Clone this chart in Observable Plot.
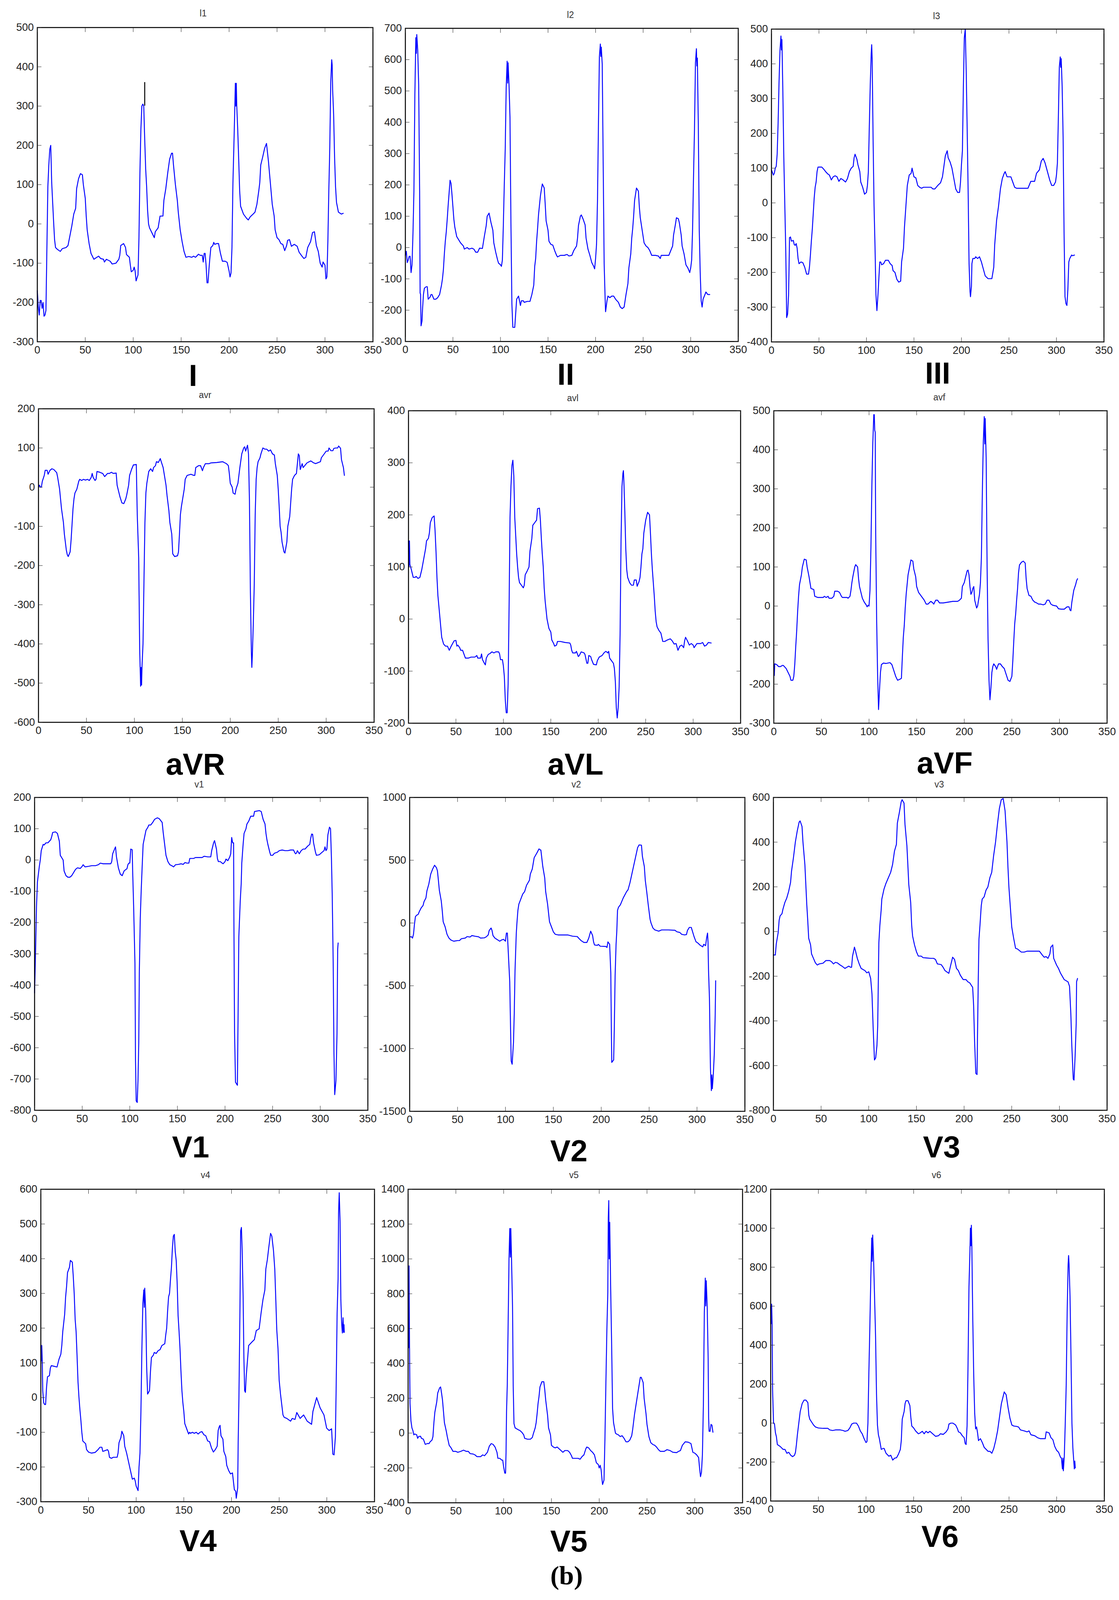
<!DOCTYPE html>
<html>
<head>
<meta charset="utf-8">
<title>12 lead ECG</title>
<script src="https://cdn.jsdelivr.net/npm/d3@7"></script>
<script src="https://cdn.jsdelivr.net/npm/@observablehq/plot@0.6"></script>
<style>
  html, body { margin: 0; background: #fff; }
  #page { position: relative; width: 2864px; overflow: hidden; font-family: "Liberation Sans", sans-serif; }
  #page svg { position: absolute; overflow: visible; }
  .lbl { position: absolute; transform: translateX(-50%); line-height: 1; white-space: nowrap; }
  .small { color: #333; }
  .big { font-weight: bold; color: #000; }
  .cap { font-family: "Liberation Serif", serif; font-weight: bold; color: #000; }
</style>
</head>
<body>
<div id="page"></div>
<script>
// values: [sample, amplitude]
const leadI = [[0,-170],[1,-210],[2,-232],[3,-195],[4,-195],[5,-215],[6,-200],[7,-235],[8,-232],[9,-220],[10,-60],[11,95],[12,150],[13,190],[14,200],[15,105],[16,55],[17,5],[18,-40],[19,-60],[21,-65],[24,-70],[26,-63],[30,-60],[32,-55],[34,-30],[36,-5],[38,25],[40,40],[41,90],[43,115],[45,128],[47,125],[48,100],[50,65],[51,20],[52,-15],[54,-50],[56,-75],[59,-90],[62,-85],[64,-82],[66,-88],[69,-90],[70,-97],[72,-90],[76,-95],[78,-102],[82,-100],[85,-90],[86,-80],[87,-55],[90,-50],[92,-60],[93,-78],[96,-85],[97,-105],[98,-122],[100,-118],[101,-110],[102,-120],[103,-145],[105,-130],[106,-35],[107,130],[108,240],[109,300],[110,305],[111,300],[112,215],[113,140],[114,95],[115,35],[116,0],[117,-10],[120,-25],[122,-35],[123,-20],[126,-10],[128,20],[131,20],[132,60],[134,90],[136,130],[138,165],[140,180],[141,180],[142,150],[144,100],[146,60],[147,30],[149,-15],[151,-45],[153,-70],[155,-85],[158,-83],[161,-85],[163,-82],[165,-85],[167,-80],[168,-77],[170,-80],[172,-80],[173,-97],[174,-75],[175,-75],[176,-105],[177,-150],[178,-150],[179,-115],[180,-85],[181,-60],[183,-55],[184,-47],[185,-52],[187,-50],[189,-50],[191,-75],[193,-95],[196,-95],[198,-98],[200,-120],[201,-135],[202,-125],[203,-60],[204,105],[205,200],[206,300],[206.5,358],[207,300],[207.5,358],[208,300],[209,240],[210,165],[211,85],[212,45],[215,25],[218,15],[220,10],[222,18],[225,25],[227,30],[229,50],[231,85],[232,105],[233,150],[235,170],[237,192],[239,205],[241,160],[243,105],[245,50],[247,20],[248,-15],[250,-35],[252,-40],[254,-50],[256,-52],[258,-68],[260,-55],[261,-42],[263,-40],[265,-57],[268,-52],[271,-57],[273,-72],[276,-82],[278,-88],[280,-85],[282,-60],[285,-45],[287,-22],[289,-20],[291,-55],[293,-70],[295,-100],[297,-110],[298,-97],[300,-105],[301,-140],[302,-135],[303,-45],[304,85],[305,195],[306,360],[307,418],[307.5,405],[308,340],[309,280],[310,170],[311,95],[312,55],[314,30],[317,25],[319,27]];
const leadIStray = [[112,302],[112,360]];
const leadII = [[0,-25],[1,-12],[2,-48],[3,-40],[4,-28],[5,-28],[6,-80],[7,-55],[8,45],[9,180],[10,490],[11,670],[11.5,620],[12,680],[13,630],[14,520],[15,180],[15.5,-145],[16,-150],[16.5,-250],[17.5,-235],[18,-200],[19,-150],[20,-130],[22,-125],[23,-125],[24,-165],[26,-158],[27,-150],[28,-150],[30,-165],[32,-165],[34,-160],[36,-150],[38,-120],[39,-100],[40,-70],[41,-20],[42,20],[43,50],[44,90],[45,135],[46,175],[47,215],[48,205],[49,170],[50,130],[51,90],[52,65],[54,35],[56,25],[58,15],[61,5],[62,-5],[65,0],[67,-5],[70,-2],[72,-5],[74,-15],[76,-15],[78,-2],[81,-3],[83,35],[85,70],[86,100],[88,110],[90,80],[92,55],[93,15],[95,-15],[97,-40],[98,-50],[100,-55],[101,-60],[102,-40],[103,70],[104,200],[105,315],[106,510],[107,595],[107.5,525],[108,590],[109,520],[110,415],[111,78],[112,-180],[113,-255],[115,-255],[116,-210],[117,-165],[119,-155],[120,-170],[121,-185],[122,-170],[124,-170],[125,-175],[128,-172],[131,-172],[133,-150],[135,-120],[136,-60],[137,-35],[138,20],[139,60],[140,105],[141,135],[142,165],[143,185],[144,203],[146,190],[147,140],[148,85],[150,55],[151,20],[153,10],[155,8],[157,-10],[159,-25],[160,-30],[163,-25],[167,-25],[170,-22],[172,-27],[175,-25],[177,-10],[180,5],[181,30],[182,70],[184,100],[185,104],[187,90],[189,72],[190,30],[192,-5],[194,-25],[196,-48],[198,-60],[199,-68],[200,-35],[201,10],[202,150],[203,390],[204,610],[205,650],[205.5,610],[206,640],[207,585],[208,265],[209,-50],[210,-160],[210.5,-205],[212,-170],[213,-155],[215,-160],[217,-155],[219,-155],[221,-165],[224,-175],[226,-190],[228,-195],[230,-190],[232,-150],[234,-115],[235,-65],[237,-20],[238,30],[239,60],[240,100],[241,150],[243,190],[245,180],[246,130],[247,95],[249,55],[251,15],[253,5],[255,0],[257,-10],[259,-25],[261,-25],[263,-25],[266,-27],[268,-35],[269,-25],[272,-25],[277,-25],[279,-10],[281,5],[282,40],[284,75],[285,95],[287,92],[288,80],[290,40],[291,5],[293,-20],[295,-55],[297,-65],[299,-80],[300,-65],[301,-40],[302,60],[303,230],[304,380],[305,590],[306,635],[306.5,580],[307,605],[308,395],[309,55],[310,-80],[311,-170],[312,-190],[313,-165],[315,-150],[316,-142],[318,-150],[320,-150]];
const leadIII = [[0,95],[1,88],[2,80],[3,85],[4,100],[5,105],[6,140],[7,230],[8,350],[9,440],[10,480],[10.5,440],[11,470],[12,320],[13,130],[14,0],[15,-130],[15.5,-220],[16,-330],[17,-320],[18,-265],[18.5,-190],[19,-100],[20,-98],[21,-110],[23,-108],[24,-120],[25,-122],[26,-117],[27,-130],[28,-160],[29,-175],[31,-170],[33,-172],[35,-185],[37,-205],[39,-205],[40,-185],[41,-150],[42,-110],[43,-75],[44,-30],[45,15],[46,45],[47,60],[48,90],[49,103],[51,103],[53,103],[55,97],[57,90],[59,84],[61,80],[63,66],[65,75],[67,78],[69,75],[71,62],[73,70],[75,67],[78,60],[80,70],[82,90],[84,100],[86,105],[87,130],[88,140],[90,125],[91,110],[93,90],[94,60],[96,45],[98,25],[100,30],[101,50],[102,90],[103,220],[104,340],[105,430],[105.5,455],[106,415],[107,180],[108,-10],[109,-125],[110,-265],[111,-310],[112,-270],[113,-220],[114,-170],[115,-170],[116,-178],[118,-175],[120,-165],[123,-165],[125,-175],[127,-180],[128,-195],[130,-200],[132,-220],[134,-228],[136,-225],[137,-170],[139,-130],[140,-70],[142,10],[143,50],[144,65],[145,80],[147,85],[148,100],[150,75],[152,72],[154,50],[156,45],[158,42],[160,45],[165,45],[168,45],[170,40],[172,40],[175,50],[178,58],[180,75],[182,115],[183,135],[185,150],[186,130],[188,118],[190,100],[192,70],[194,40],[196,30],[198,30],[199,60],[200,110],[201,150],[202,330],[203,475],[204,500],[205,380],[206,215],[207,40],[208,-175],[209,-255],[209.5,-270],[210.5,-240],[211,-175],[212,-160],[214,-160],[215,-155],[217,-160],[219,-155],[221,-170],[223,-190],[225,-210],[228,-218],[232,-218],[234,-185],[235,-120],[237,-50],[239,-10],[241,40],[243,70],[245,85],[246,90],[248,75],[252,75],[254,60],[256,45],[258,42],[267,42],[270,42],[273,62],[277,62],[279,85],[282,95],[284,120],[286,128],[288,115],[290,95],[293,65],[295,50],[297,50],[299,60],[300,80],[301,115],[302,245],[303,390],[304,420],[304.5,390],[305,415],[306,335],[307,190],[308,-85],[309,-270],[310,-290],[311,-295],[312,-250],[313,-170],[314,-160],[316,-150],[317,-152],[319,-150]];
const leadAVR = [[0,0],[1,5],[2,0],[3,0],[4,15],[6,30],[7,43],[9,43],[10,33],[12,43],[14,47],[16,45],[19,37],[20,25],[22,-5],[23,-30],[24,-55],[26,-90],[27,-120],[28,-140],[29,-160],[30,-172],[31,-177],[33,-165],[34,-135],[35,-95],[36,-55],[37,-30],[38,-15],[40,-5],[41,5],[42,15],[43,20],[45,17],[47,20],[49,18],[51,20],[53,17],[55,25],[56,35],[57,25],[59,17],[60,20],[61,40],[64,38],[67,35],[69,27],[72,35],[74,35],[76,38],[78,35],[81,36],[82,5],[83,-5],[85,-25],[87,-40],[89,-42],[91,-30],[92,-20],[94,5],[95,30],[97,45],[99,57],[100,57],[102,58],[103,-70],[104.5,-180],[105.5,-410],[106.5,-508],[107,-460],[107.5,-505],[108,-455],[109,-400],[110,-240],[111,-90],[112,-15],[113,10],[115,40],[117,47],[119,40],[120,50],[122,55],[123,65],[125,63],[127,73],[128,65],[130,50],[131,35],[133,5],[134,-20],[136,-60],[137,-90],[139,-120],[140,-170],[142,-177],[145,-175],[146,-165],[147,-120],[148,-70],[149,-50],[151,-20],[152,-5],[153,20],[155,30],[159,33],[162,30],[163,30],[164,50],[167,55],[169,55],[171,42],[172,50],[174,60],[178,60],[180,62],[186,63],[192,65],[196,60],[198,55],[199,35],[200,10],[202,0],[203,-15],[205,-18],[206,-5],[208,10],[209,30],[210,50],[212,85],[214,100],[215,103],[216,92],[218,107],[219,85],[220,-35],[220.5,-150],[221,-270],[222,-420],[222.5,-460],[223,-430],[224,-350],[225,-250],[226,-70],[227,20],[228,50],[229,65],[231,75],[232,85],[234,100],[236,97],[238,97],[240,92],[242,95],[244,85],[246,82],[247,60],[249,30],[250,-5],[251,-50],[252,-100],[253,-115],[254,-140],[256,-165],[257,-168],[259,-140],[260,-100],[262,-75],[263,-40],[264,-5],[265,20],[267,30],[269,35],[271,85],[272,80],[273,45],[275,60],[276,50],[280,62],[284,67],[287,62],[289,60],[292,63],[294,65],[295,75],[298,85],[300,92],[302,92],[303,100],[305,93],[307,93],[308,99],[310,100],[312,100],[313,105],[315,99],[316,70],[318,50],[319,30]];
const leadAVL = [[0,150],[0.5,100],[1,150],[1.5,105],[3,95],[5,80],[7,80],[8,82],[10,78],[12,80],[14,95],[16,115],[18,135],[19,150],[21,155],[22,165],[23,185],[25,195],[27,198],[28,170],[29,130],[30,80],[31,45],[32,25],[34,-15],[35,-35],[37,-48],[39,-52],[41,-52],[43,-60],[45,-52],[48,-42],[50,-41],[51,-52],[52,-50],[54,-55],[55,-60],[57,-60],[59,-70],[60,-75],[63,-75],[66,-73],[70,-73],[72,-70],[73,-75],[76,-75],[77,-67],[78,-78],[80,-85],[81,-88],[82,-75],[84,-68],[86,-66],[88,-63],[90,-65],[92,-63],[95,-63],[96,-67],[97,-78],[99,-78],[100,-90],[101,-110],[102,-155],[103,-180],[104,-180],[105,-125],[106,20],[107,195],[108,255],[109,295],[110,305],[111,275],[112,195],[113,160],[114,125],[115,100],[116,80],[117,70],[119,65],[121,60],[122,65],[123,85],[125,92],[127,100],[128,130],[130,155],[131,180],[133,185],[135,190],[136,212],[138,213],[139,190],[140,155],[141,125],[142,100],[143,60],[144,35],[146,0],[148,-18],[150,-25],[151,-40],[153,-47],[154,-52],[156,-50],[157,-43],[160,-43],[165,-45],[170,-46],[171,-50],[172,-60],[173,-65],[176,-65],[177,-62],[179,-72],[180,-70],[182,-63],[185,-65],[186,-68],[188,-85],[189,-85],[190,-70],[192,-72],[193,-78],[195,-87],[198,-88],[199,-80],[201,-73],[204,-70],[206,-65],[208,-62],[210,-65],[211,-62],[212,-75],[214,-80],[216,-85],[217,-95],[218,-120],[219,-170],[220,-190],[221,-170],[222,-130],[223,-30],[224,150],[225,255],[226,280],[226.5,285],[227,265],[228,205],[229,135],[230,95],[231,80],[233,70],[235,65],[237,65],[238,75],[240,75],[241,63],[243,72],[244,80],[245,100],[246,125],[247,135],[248,165],[250,190],[252,205],[254,200],[255,165],[256,125],[257,95],[258,70],[259,45],[260,15],[261,-5],[262,-15],[264,-22],[266,-27],[268,-43],[270,-43],[273,-40],[276,-38],[278,-42],[280,-48],[282,-47],[284,-60],[286,-52],[288,-50],[290,-55],[291,-42],[292,-35],[294,-42],[296,-50],[298,-47],[300,-50],[301,-55],[304,-47],[308,-47],[310,-45],[312,-52],[314,-50],[316,-45],[319,-46]];
const leadAVF = [[0,-150],[0.5,-178],[1,-148],[3,-150],[5,-155],[7,-155],[9,-152],[10,-152],[13,-160],[15,-170],[17,-180],[18,-190],[20,-190],[21,-180],[22,-150],[23,-105],[24,-65],[25,-15],[26,25],[27,55],[29,80],[30,100],[32,120],[34,118],[35,100],[37,75],[38,60],[39,45],[42,42],[43,25],[46,22],[52,22],[53,25],[55,22],[57,25],[58,20],[61,20],[63,25],[64,38],[67,38],[69,35],[71,25],[72,22],[77,22],[78,20],[80,25],[81,40],[82,60],[83,75],[85,100],[86,106],[88,100],[89,70],[90,50],[92,30],[93,20],[95,10],[97,3],[98,-2],[99,2],[100,0],[101,40],[102,150],[103,310],[104,420],[105,490],[105.5,490],[106,450],[106.5,445],[107,185],[108,-35],[109,-175],[110,-265],[111,-215],[112,-170],[113,-150],[115,-146],[118,-147],[122,-145],[124,-150],[126,-165],[128,-180],[130,-190],[132,-188],[134,-185],[135,-130],[136,-80],[137,-50],[138,-5],[139,30],[140,55],[141,80],[143,105],[144,118],[146,115],[147,95],[149,75],[150,50],[152,35],[155,25],[158,15],[160,5],[162,5],[164,10],[165,12],[167,8],[168,5],[170,15],[172,15],[174,8],[178,8],[183,10],[188,12],[193,12],[195,15],[197,20],[198,50],[200,60],[201,70],[203,90],[204,92],[205,80],[206,50],[207,30],[208,35],[209,45],[210,50],[211,15],[212,5],[213,-5],[214,0],[215,15],[216,30],[217,60],[218,125],[219,290],[220,420],[221,485],[221.5,415],[222,480],[223,380],[224,100],[225,-85],[226,-190],[227,-240],[228,-210],[229,-170],[230,-155],[231,-148],[233,-155],[234,-162],[236,-148],[238,-148],[240,-155],[242,-160],[244,-175],[246,-190],[248,-193],[250,-180],[251,-140],[252,-90],[253,-45],[254,-20],[255,15],[256,45],[257,85],[258,105],[260,112],[262,115],[264,110],[265,70],[266,45],[268,27],[270,25],[272,15],[274,10],[276,8],[278,5],[280,5],[283,3],[285,5],[287,15],[289,15],[291,5],[293,2],[297,0],[299,-7],[302,-8],[305,-8],[308,-2],[310,-2],[311,-10],[312,-12],[313,10],[315,40],[317,55],[318,65],[319,70]];
const leadV1 = [[0,-425],[1,-300],[2,-150],[3,-70],[4,-45],[5,-20],[6,0],[7,30],[8,40],[9,50],[10,48],[12,55],[14,55],[17,65],[18,75],[19,88],[22,90],[24,85],[26,60],[27,15],[30,0],[31,-35],[33,-50],[35,-55],[37,-55],[39,-50],[41,-40],[43,-30],[45,-25],[48,-27],[50,-20],[51,-15],[53,-22],[57,-20],[60,-18],[64,-18],[67,-15],[69,-10],[72,-12],[75,-12],[80,-12],[81,-5],[82,20],[84,35],[85,42],[86,10],[88,-25],[90,-45],[92,-50],[94,-35],[96,-30],[97,-28],[98,-15],[99,-10],[100,-10],[101,35],[102.5,33],[103,-35],[104,-145],[105.4,-330],[106,-640],[106.7,-770],[107.8,-775],[108.6,-705],[109.4,-585],[110,-360],[111,-185],[112,-95],[113,-20],[114,50],[115,65],[116,80],[117,95],[119,105],[120,112],[122,112],[124,120],[126,130],[129,135],[131,132],[134,120],[135,90],[136,65],[137,40],[138,15],[140,-5],[142,-15],[144,-18],[146,-22],[148,-15],[151,-14],[154,-12],[156,-14],[158,-8],[160,-10],[162,-10],[163,5],[167,5],[169,8],[172,8],[176,8],[178,12],[182,10],[185,10],[186,30],[188,55],[189,62],[191,35],[192,5],[193,-5],[195,-5],[197,-10],[198,-12],[200,-5],[201,3],[203,-2],[205,10],[206,20],[207,72],[208,55],[209,55],[209.3,-175],[210,-550],[211,-710],[213,-720],[213.7,-500],[214.5,-245],[216,-130],[217,-75],[217.6,-10],[219,50],[220,85],[222,100],[223,115],[225,125],[227,140],[230,140],[231,155],[236,158],[238,155],[240,130],[242,115],[243,85],[244,65],[245,50],[247,25],[248,15],[250,15],[252,22],[255,25],[257,30],[260,32],[263,30],[266,30],[269,32],[272,32],[273,25],[274,20],[275,22],[276,30],[278,20],[280,30],[282,35],[284,35],[287,45],[289,50],[290,70],[291,83],[292,82],[293,55],[295,25],[296,15],[299,17],[302,25],[304,30],[305,42],[306,30],[307,35],[308,80],[309.7,105],[310.8,100],[311.8,0],[312.6,-115],[313.6,-330],[314.4,-615],[315.2,-750],[316.5,-705],[317.6,-555],[318.3,-285],[318.8,-265]];
const leadV2 = [[0,-110],[2,-110],[3,-120],[4,-90],[5,-10],[6,50],[7,60],[9,70],[10,90],[12,120],[14,140],[15,170],[17,200],[18,255],[20,310],[22,390],[24,430],[26,460],[28,440],[29,415],[30,340],[31,260],[33,175],[34,100],[35,10],[37,-30],[39,-90],[41,-120],[43,-135],[46,-145],[50,-140],[52,-140],[54,-125],[58,-120],[60,-108],[63,-112],[65,-100],[68,-105],[72,-110],[74,-120],[78,-118],[80,-110],[82,-95],[83,-60],[85,-40],[86,-60],[87,-100],[89,-120],[92,-135],[94,-145],[96,-135],[98,-130],[100,-145],[101,-80],[102,-80],[103.2,-270],[104.5,-470],[105.3,-820],[106,-1100],[107,-1125],[108.4,-950],[109.2,-720],[110,-380],[111.3,-85],[112,0],[113,100],[114,150],[116,190],[118,230],[120,250],[122,300],[125,340],[126,390],[128,430],[130,520],[133,560],[135,590],[137,580],[139,450],[141,360],[142,250],[144,150],[145,80],[146,10],[148,-30],[150,-70],[152,-90],[155,-95],[165,-95],[170,-105],[175,-108],[177,-125],[179,-140],[182,-155],[185,-155],[187,-120],[189,-65],[191,-100],[192,-150],[193,-175],[196,-178],[197,-170],[199,-185],[205,-187],[206,-195],[207,-150],[208.8,-170],[210,-400],[210.6,-860],[211,-1110],[213,-1090],[213.7,-820],[214.5,-420],[215.5,-170],[216.3,-60],[217,100],[218,125],[220,145],[223,200],[226.5,250],[228,265],[230,320],[232,390],[234,460],[236,530],[238,600],[239.5,622],[242,620],[243,530],[245,450],[246,340],[247.5,250],[249,150],[250,90],[251,30],[252,0],[254,-40],[256,-55],[258,-60],[260,-65],[263,-55],[270,-55],[277,-58],[279,-70],[282,-75],[284,-90],[287,-95],[289,-92],[290,-60],[292,-35],[294,-35],[295,-60],[297,-110],[299,-150],[301,-160],[303,-175],[306,-190],[307,-170],[309,-180],[310,-120],[311,-80],[311.5,-150],[312,-370],[313,-600],[314,-1150],[315,-1335],[315.5,-1210],[316,-1320],[317,-1210],[318,-1050],[319,-730],[319.5,-460]];
const leadV3 = [[0,-105],[2,-105],[3,-55],[4,-30],[5,-5],[6,50],[7,70],[9,80],[10,100],[12,130],[14,150],[16,180],[18,220],[19,270],[21,330],[23,400],[25,450],[27,490],[28,495],[30,470],[31,400],[33,300],[34,210],[35,120],[36,50],[37,-30],[39,-60],[40,-100],[42,-120],[44,-140],[46,-150],[48,-145],[52,-142],[55,-130],[59,-130],[61,-135],[63,-145],[65,-138],[67,-140],[70,-150],[72,-155],[75,-165],[77,-160],[79,-155],[81,-160],[82,-160],[83,-110],[84,-90],[85,-70],[86,-85],[88,-120],[90,-145],[92,-165],[96,-175],[98,-185],[100,-180],[102,-210],[103.4,-280],[104.7,-440],[106,-575],[107.3,-565],[108.6,-510],[109.4,-420],[110,-235],[110.6,-50],[111.7,30],[113,95],[113.7,145],[116,190],[118,215],[120,235],[123,265],[125,300],[127,360],[129,390],[130,485],[132,530],[134,580],[135,590],[137,575],[138,480],[140,385],[141,300],[142,210],[144,130],[145,30],[146,-20],[148,-60],[150,-90],[152,-110],[155,-110],[157,-117],[160,-118],[165,-120],[168,-120],[170,-125],[172,-145],[176,-148],[178,-160],[180,-175],[184,-187],[186,-150],[188,-115],[190,-125],[192,-165],[194,-175],[196,-195],[199,-215],[202,-215],[204,-225],[206,-230],[209,-250],[210,-330],[211,-490],[212.3,-635],[213.6,-640],[214,-490],[214.9,-210],[215.6,-35],[216.7,30],[218,115],[219,145],[221,155],[223,185],[225,200],[227,240],[229,265],[231,340],[233,400],[235,480],[237,550],[239,590],[241,595],[243,540],[245,400],[246,290],[247,200],[249,80],[250,20],[252,-30],[254,-75],[256,-78],[258,-85],[260,-92],[263,-92],[266,-88],[279,-88],[282,-105],[284,-115],[286,-112],[288,-120],[290,-100],[291,-70],[293,-60],[294,-120],[297,-150],[299,-165],[301,-185],[303,-200],[305,-215],[309,-225],[310.6,-245],[312,-370],[313,-510],[314.5,-660],[315.3,-665],[316.5,-555],[317.6,-410],[318,-225],[319,-210]];
const leadV4 = [[0,150],[0.5,105],[1,150],[1.5,105],[2,20],[3,-15],[4,-20],[5,-20],[6,30],[7,60],[9,63],[10,85],[11,92],[14,90],[17,88],[19,110],[21,125],[22,150],[23,190],[25,240],[26,290],[27,320],[28,360],[30,375],[31,395],[33,390],[34,350],[35,300],[36,225],[37,190],[38,120],[39,45],[40,0],[41,-35],[42,-65],[43,-100],[44,-125],[47,-133],[48,-150],[50,-157],[53,-160],[57,-158],[60,-150],[62,-143],[64,-143],[65,-155],[67,-153],[70,-150],[71,-155],[72,-172],[74,-175],[76,-172],[78,-172],[80,-172],[81,-160],[82,-130],[84,-115],[85,-97],[87,-110],[88,-140],[90,-160],[92,-185],[94,-210],[96,-235],[98,-232],[99,-240],[100,-255],[102,-268],[103,-200],[104,-160],[105,-40],[106,140],[107,270],[108,310],[108.5,260],[109,315],[110,250],[111,90],[112,10],[113,15],[114,20],[115,75],[116,115],[118,122],[119,130],[121,127],[123,135],[125,138],[127,150],[130,155],[131,180],[132,200],[133,250],[134,290],[135,300],[136,340],[137,375],[138,430],[139,465],[140,470],[141,420],[142,395],[143,330],[144,235],[145,190],[146,140],[147,75],[148,20],[149,-15],[150,-40],[151,-75],[153,-90],[155,-105],[156,-100],[157,-103],[159,-100],[161,-103],[163,-100],[165,-105],[167,-100],[169,-98],[171,-107],[173,-110],[175,-125],[177,-127],[179,-145],[181,-157],[183,-150],[185,-140],[186,-95],[187,-85],[188,-80],[189,-110],[191,-120],[192,-155],[194,-170],[195,-195],[197,-210],[199,-220],[201,-217],[203,-265],[204.4,-270],[205,-290],[206.5,-260],[207,-130],[207.8,0],[208.8,235],[209.6,480],[210.4,490],[211.2,425],[212.2,290],[213,115],[213.8,20],[214.6,15],[215.4,60],[216.7,105],[218,150],[221.4,160],[224,167],[226,193],[229,198],[231,243],[233,282],[235,310],[236,370],[237.6,397],[239,430],[241,473],[242.3,465],[244,425],[245.4,370],[246.5,280],[247.5,195],[248.8,140],[250,50],[251.4,10],[252.7,-20],[254,-50],[255.3,-57],[258,-60],[262,-68],[263.7,-60],[266.6,-63],[268.5,-43],[272,-60],[275.7,-50],[279.4,-68],[284,-77],[285.4,-40],[289.3,0],[293,-30],[297,-50],[299.8,-88],[302.4,-95],[305,-90],[306.3,-163],[307.6,-165],[309,-113],[309.7,13],[310.8,243],[311.8,342],[312.3,530],[313,590],[313.9,507],[314.7,282],[315.5,215],[316.3,186],[317,230],[317.6,188],[318,210],[318.3,188]];
const leadV5 = [[0,960],[0.5,490],[1,960],[1.5,490],[2,170],[3,70],[4,30],[5,15],[6,-10],[7,-5],[9,-10],[10,-30],[11,-20],[13,-18],[14,-30],[16,-35],[17,-50],[18,-65],[20,-60],[22,-60],[23,-50],[25,-40],[26,-20],[27,60],[28,120],[30,180],[31,230],[33,260],[34,265],[35,230],[36,190],[37,125],[38,60],[40,10],[41,-20],[43,-70],[45,-85],[47,-105],[50,-105],[52,-110],[55,-105],[58,-98],[61,-105],[63,-105],[65,-118],[68,-120],[70,-125],[72,-135],[76,-135],[78,-125],[80,-130],[83,-110],[85,-75],[87,-60],[89,-65],[91,-80],[92,-95],[93,-110],[94,-145],[96,-145],[98,-155],[99,-155],[100,-195],[101.2,-230],[102,-230],[102.5,-110],[103,120],[103.8,280],[104.6,590],[105.6,1000],[106.4,1175],[107,1010],[107.5,1175],[108.2,1010],[109.3,725],[110,270],[110.8,55],[112,30],[115,20],[117,15],[119,5],[121,-10],[122,-30],[125,-35],[128,-35],[130,-25],[131,-5],[133,30],[134,60],[135,110],[136,170],[137,210],[138,265],[140,295],[142,295],[143,250],[144,190],[146,100],[147,30],[149,-10],[150,-70],[152,-80],[154,-85],[156,-80],[158,-90],[160,-100],[162,-110],[164,-100],[167,-100],[169,-110],[171,-130],[172,-145],[176,-145],[178,-145],[180,-150],[182,-135],[184,-125],[186,-90],[187,-80],[189,-85],[191,-100],[193,-110],[195,-125],[197,-170],[199,-180],[200,-200],[201,-185],[202,-210],[203,-270],[203.5,-295],[205,-270],[206,-30],[207,290],[208,590],[209,810],[209.5,1235],[210,1335],[210.5,1000],[211,1210],[212,830],[213,510],[214,140],[215,60],[216,30],[217,0],[218,-5],[220,-10],[222,-20],[224,-15],[226,-30],[228,-50],[230,-50],[232,-40],[234,-15],[235,20],[237,110],[239,180],[241,250],[243,320],[244,320],[246,290],[247,200],[249,110],[250,50],[252,-20],[254,-55],[256,-65],[258,-70],[260,-80],[262,-95],[264,-105],[268,-105],[271,-95],[274,-100],[277,-110],[281,-112],[283,-105],[285,-100],[287,-70],[290,-50],[293,-52],[296,-60],[298,-110],[300,-115],[302,-125],[304,-140],[305,-200],[306,-250],[307,-225],[308,-125],[309,160],[310,690],[311,890],[311.5,730],[312,875],[313,730],[314,430],[314.5,90],[315,10],[316,10],[317,50],[318,45],[319,5]];
const leadV6 = [[0,600],[0.5,510],[1,610],[1.5,510],[2,170],[3,0],[4,-5],[5,-50],[6,-70],[7,-110],[10,-120],[13,-135],[15,-135],[17,-155],[19,-150],[21,-165],[23,-172],[25,-165],[26,-150],[27,-110],[28,-60],[29,-20],[31,60],[33,100],[35,118],[37,118],[39,105],[40,40],[41,20],[43,5],[45,-10],[47,-20],[50,-25],[55,-27],[60,-27],[62,-35],[65,-38],[68,-35],[73,-35],[76,-38],[78,-42],[81,-38],[83,-25],[85,-5],[87,0],[90,0],[92,-15],[94,-40],[96,-55],[98,-80],[100,-100],[101,-95],[102,0],[103,260],[104,490],[105,740],[106,950],[106.5,830],[107,965],[108,830],[109,640],[110,450],[111,150],[112,-10],[113,-60],[114,-80],[116,-135],[118,-130],[119,-130],[121,-155],[124,-170],[126,-165],[128,-190],[130,-180],[132,-178],[134,-160],[136,-135],[137,-90],[138,20],[140,60],[141,100],[142,115],[144,115],[146,90],[147,30],[148,-15],[150,-25],[152,-40],[155,-55],[157,-50],[159,-42],[161,-55],[163,-42],[165,-50],[167,-42],[170,-55],[173,-68],[176,-65],[178,-55],[181,-58],[184,-45],[186,-30],[187,-5],[189,0],[191,0],[194,-10],[196,-30],[197,-45],[199,-50],[201,-65],[203,-75],[204,-105],[205,-110],[206,-15],[207,295],[208,700],[209,880],[209.5,1000],[210,910],[210.5,1015],[211,910],[212,530],[213,240],[214,50],[215,-30],[216,-20],[217,-50],[218,-90],[220,-80],[222,-100],[224,-125],[226,-135],[228,-145],[230,-145],[232,-155],[234,-130],[236,-90],[238,-40],[240,30],[242,100],[244,140],[245,160],[247,145],[249,80],[251,25],[253,-10],[255,-15],[258,-17],[260,-20],[262,-35],[266,-40],[269,-45],[271,-40],[273,-60],[277,-65],[280,-75],[283,-80],[286,-80],[288,-80],[289,-45],[292,-50],[294,-75],[296,-85],[298,-120],[300,-140],[302,-150],[304,-175],[305,-180],[306,-235],[306.5,-180],[307,-245],[308,-170],[309,0],[310,195],[311,570],[312,815],[312.5,860],[313,815],[314,650],[315,350],[316,0],[317,-130],[318,-200],[318.5,-235],[319,-195],[319.5,-230]];

const xTicks = [0, 50, 100, 150, 200, 250, 300, 350];
const yTicksI = [-300, -200, -100, 0, 100, 200, 300, 400, 500];
const yTicksII = [-300, -200, -100, 0, 100, 200, 300, 400, 500, 600, 700];
const yTicksIII = [-400, -300, -200, -100, 0, 100, 200, 300, 400, 500];
const yTicksAVR = [-600, -500, -400, -300, -200, -100, 0, 100, 200];
const yTicksAVL = [-200, -100, 0, 100, 200, 300, 400];
const yTicksAVF = [-300, -200, -100, 0, 100, 200, 300, 400, 500];
const yTicksV1 = [-800, -700, -600, -500, -400, -300, -200, -100, 0, 100, 200];
const yTicksV2 = [-1500, -1000, -500, 0, 500, 1000];
const yTicksV3 = [-800, -600, -400, -200, 0, 200, 400, 600];
const yTicksV4 = [-300, -200, -100, 0, 100, 200, 300, 400, 500, 600];
const yTicksV5 = [-400, -200, 0, 200, 400, 600, 800, 1000, 1200, 1400];
const yTicksV6 = [-400, -200, 0, 200, 400, 600, 800, 1000, 1200];

// frame = left, right, top, bottom of the axes box; small / big = text x, baseline
const panels = [
  {data: leadI, ticks: yTicksI, name: "l1", label: "I", frame: [95, 954, 78, 980], small: [520, 47], big: [494, 1106], stray: leadIStray},
  {data: leadII, ticks: yTicksII, name: "l2", label: "II", frame: [1037, 1889, 81, 980], small: [1460, 52], big: [1448, 1103]},
  {data: leadIII, ticks: yTicksIII, name: "l3", label: "III", frame: [1974, 2825, 83, 981], small: [2397, 55], big: [2400, 1100]},
  {data: leadAVR, ticks: yTicksAVR, name: "avr", label: "aVR", frame: [98, 957, 1173, 2073], small: [525, 1143], big: [500, 2222]},
  {data: leadAVL, ticks: yTicksAVL, name: "avl", label: "aVL", frame: [1045, 1895, 1179, 2076], small: [1466, 1152], big: [1473, 2222]},
  {data: leadAVF, ticks: yTicksAVF, name: "avf", label: "aVF", frame: [1980, 2833, 1179, 2076], small: [2404, 1150], big: [2418, 2219]},
  {data: leadV1, ticks: yTicksV1, name: "v1", label: "V1", frame: [88, 941, 2289, 3187], small: [510, 2261], big: [488, 3321]},
  {data: leadV2, ticks: yTicksV2, name: "v2", label: "V2", frame: [1048, 1906, 2289, 3190], small: [1475, 2261], big: [1456, 3332]},
  {data: leadV3, ticks: yTicksV3, name: "v3", label: "V3", frame: [1979, 2833, 2289, 3187], small: [2404, 2261], big: [2410, 3321]},
  {data: leadV4, ticks: yTicksV4, name: "v4", label: "V4", frame: [104, 958, 3413, 4310], small: [526, 3382], big: [507, 4451]},
  {data: leadV5, ticks: yTicksV5, name: "v5", label: "V5", frame: [1044, 1900, 3413, 4313], small: [1469, 3382], big: [1456, 4453]},
  {data: leadV6, ticks: yTicksV6, name: "v6", label: "V6", frame: [1972, 2826, 3413, 4308], small: [2397, 3382], big: [2406, 4439]}
];

// the window can come up shorter than the 4593 of the reference (4096 here),
// so squeeze the vertical layout to keep the bottom row and caption on screen
const refHeight = 4593;
const fit = Math.min(1, window.innerHeight / refHeight);

const page = document.getElementById("page");
page.style.height = (refHeight * fit) + "px";

function addText(text, cls, x, baseline, fontSize) {
  const el = document.createElement("div");
  el.className = "lbl " + cls;
  el.textContent = text;
  el.style.fontSize = fontSize + "px";
  el.style.left = x + "px";
  el.style.top = (baseline * fit - 0.83 * fontSize) + "px"; // line-height 1, baseline sits near .83em
  page.appendChild(el);
}

function drawPanel(p) {
  const [left, right, top, bottom] = p.frame;
  const mL = 100, mR = 40, mT = 10, mB = 50;
  const marks = [
    Plot.line(p.data, {x: d => d[0], y: d => d[1], stroke: "#0000ff", strokeWidth: 2.4}),
    Plot.frame({stroke: "#000", strokeWidth: 2.5}),
    Plot.axisX(xTicks, {anchor: "bottom", tickSize: -11, text: null, label: null}),
    Plot.axisX(xTicks, {anchor: "top", tickSize: -11, text: null, label: null}),
    Plot.axisY(p.ticks, {anchor: "left", tickSize: -11, text: null, label: null}),
    Plot.axisY(p.ticks, {anchor: "right", tickSize: -11, text: null, label: null}),
    Plot.axisX(xTicks, {anchor: "bottom", tickSize: 0, tickPadding: 11, tickFormat: d => String(d), label: null}),
    Plot.axisY(p.ticks, {anchor: "left", tickSize: 0, tickPadding: 9, tickFormat: d => String(d), label: null})
  ];
  if (p.stray) {
    marks.push(Plot.line(p.stray, {x: d => d[0], y: d => d[1], stroke: "#000", strokeWidth: 2.5}));
  }
  const chart = Plot.plot({
    width: right - left + mL + mR,
    height: (bottom - top) * fit + mT + mB,
    marginLeft: mL,
    marginRight: mR,
    marginTop: mT,
    marginBottom: mB,
    style: {background: "transparent", color: "#222", fontFamily: "Liberation Sans", fontSize: "27px"},
    x: {domain: [0, 350]},
    y: {domain: d3.extent(p.ticks)},
    marks
  });
  chart.style.left = (left - mL) + "px";
  chart.style.top = (top * fit - mT) + "px";
  page.appendChild(chart);

  addText(p.name, "small", p.small[0], p.small[1], 23);
  addText(p.label, "big", p.big[0], p.big[1], 78);
}

panels.forEach(drawPanel);
addText("(b)", "cap", 1450, 4547, 68);
</script>
</body>
</html>
